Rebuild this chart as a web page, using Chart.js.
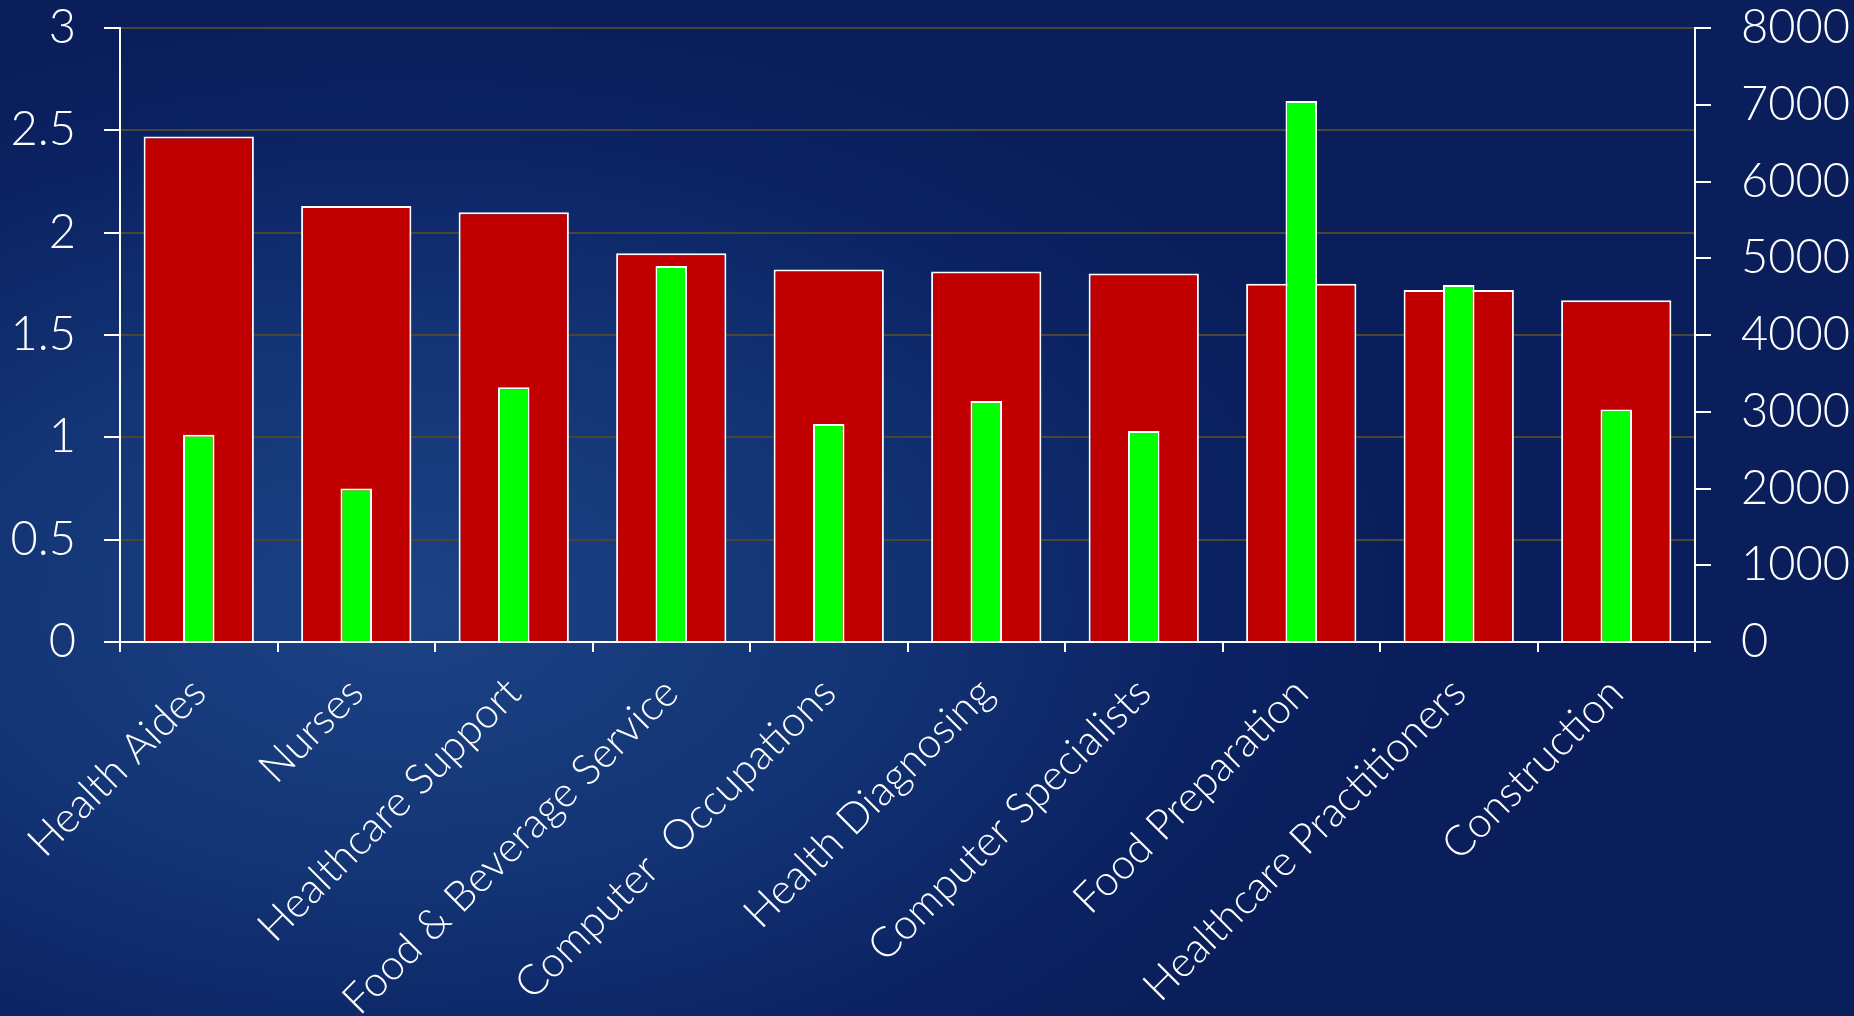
<!DOCTYPE html>
<html>
<head>
<meta charset="utf-8">
<script src="https://cdn.jsdelivr.net/npm/chart.js@4/dist/chart.umd.min.js"></script>
<style>
  html, body {
    margin: 0;
    padding: 0;
    width: 1854px;
    height: 1016px;
    overflow: hidden;
  }
  body {
    background: radial-gradient(ellipse 55% 60% at 22% 60%, #1c4384 0%, #133475 45%, #0b2262 80%, #091e5a 100%);
  }
</style>
</head>
<body>
<canvas id="jobsChart" width="1854" height="1016"></canvas>
<script>
// categories + both series (red = left axis, green = right axis)
const occupations = ['Health Aides', 'Nurses', 'Healthcare Support', 'Food & Beverage Service',
  'Computer  Occupations', 'Health Diagnosing', 'Computer Specialists', 'Food Preparation',
  'Healthcare Practitioners', 'Construction'];
const growthRatio = [2.47, 2.13, 2.10, 1.90, 1.82, 1.81, 1.80, 1.75, 1.72, 1.67];
const openings = [2700, 2000, 3320, 4900, 2840, 3140, 2750, 7050, 4650, 3030];

const leftTicks = [0, 0.5, 1, 1.5, 2, 2.5, 3];
const rightTicks = [0, 1000, 2000, 3000, 4000, 5000, 6000, 7000, 8000];

const tickFont = { family: 'Lato', size: 47, weight: '300' };
const labelFont = { family: 'Lato', size: 42, weight: '300' };

// fixed axis sizes so the plot box lands where the original one is
function fitY(width) {
  return (scale) => {
    scale.width = width;
    scale.paddingTop = 0;
    scale.paddingBottom = 0;
  };
}

const ctx = document.getElementById('jobsChart').getContext('2d');

const chart = new Chart(ctx, {
  type: 'bar',
  data: {
    labels: occupations,
    datasets: [
      {
        label: 'Openings',
        data: openings,
        yAxisID: 'y1',
        backgroundColor: '#00ff00',
        borderColor: '#ffffff',
        borderWidth: 2,
        grouped: false,
        barPercentage: 0.2,
        categoryPercentage: 1,
        order: 0
      },
      {
        label: 'Growth',
        data: growthRatio,
        yAxisID: 'y',
        backgroundColor: '#c00000',
        borderColor: '#ffffff',
        borderWidth: 2,
        grouped: false,
        barPercentage: 0.7,
        categoryPercentage: 1,
        order: 1
      }
    ]
  },
  options: {
    responsive: false,
    animation: false,
    layout: { padding: { top: 28, left: 0, right: 0, bottom: 0 } },
    plugins: {
      legend: { display: false },
      tooltip: { enabled: false }
    },
    scales: {
      x: {
        afterFit: (scale) => { scale.height = 374; },
        border: { color: '#ffffff', width: 2 },
        grid: {
          offset: true,
          drawOnChartArea: false,
          color: '#ffffff',
          tickColor: '#ffffff',
          tickLength: 10,
          lineWidth: 2
        },
        ticks: {
          color: '#ffffff',
          font: labelFont,
          minRotation: 45,
          maxRotation: 45,
          autoSkip: false,
          padding: 16
        }
      },
      y: {
        position: 'left',
        min: 0,
        max: 3,
        afterFit: fitY(120),
        afterBuildTicks: (scale) => { scale.ticks = leftTicks.map(v => ({ value: v })); },
        border: { color: '#ffffff', width: 2 },
        grid: {
          color: '#4a4534',
          lineWidth: 2,
          tickColor: '#ffffff',
          tickLength: 16
        },
        ticks: {
          color: '#ffffff',
          font: tickFont,
          padding: 28,
          callback: (v) => String(v)
        }
      },
      y1: {
        position: 'right',
        min: 0,
        max: 8000,
        afterFit: fitY(159),
        afterBuildTicks: (scale) => { scale.ticks = rightTicks.map(v => ({ value: v })); },
        border: { color: '#ffffff', width: 2 },
        grid: {
          drawOnChartArea: false,
          color: '#ffffff',
          tickColor: '#ffffff',
          tickLength: 16,
          lineWidth: 2
        },
        ticks: {
          color: '#ffffff',
          font: tickFont,
          padding: 30,
          callback: (v) => String(v)
        }
      }
    }
  }
});
</script>
</body>
</html>
